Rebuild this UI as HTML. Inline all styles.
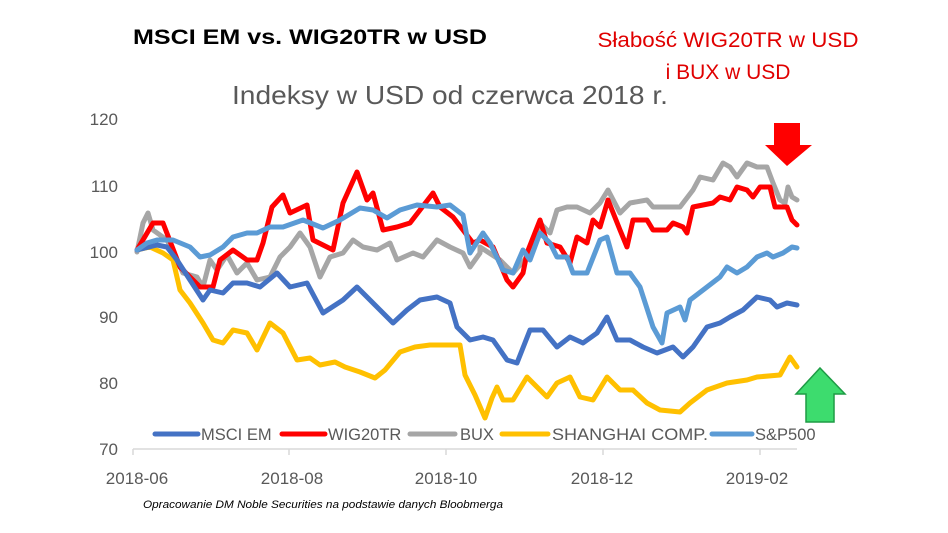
<!DOCTYPE html>
<html><head><meta charset="utf-8"><style>
body{margin:0;background:#fff;}
svg{display:block;font-family:"Liberation Sans",sans-serif;}
</style></head><body>
<svg width="948" height="533" viewBox="0 0 948 533">
<rect width="948" height="533" fill="#fff"/>
<text x="133" y="44" font-size="21" font-weight="bold" fill="#000" textLength="354" lengthAdjust="spacingAndGlyphs">MSCI EM vs. WIG20TR w USD</text>
<text x="728" y="47" font-size="21" fill="#e00000" text-anchor="middle" textLength="261" lengthAdjust="spacingAndGlyphs">Słabość WIG20TR w USD</text>
<text x="728" y="79" font-size="21" fill="#e00000" text-anchor="middle">i BUX w USD</text>
<text x="450" y="104" font-size="26" fill="#595959" text-anchor="middle" textLength="436" lengthAdjust="spacingAndGlyphs">Indeksy w USD od czerwca 2018 r.</text>
<g font-size="17" fill="#595959" text-anchor="end">
<text x="118" y="125">120</text><text x="118" y="192">110</text><text x="118" y="258">100</text>
<text x="118" y="323">90</text><text x="118" y="389">80</text><text x="118" y="455">70</text>
</g>
<line x1="133" y1="449" x2="797" y2="449" stroke="#d9d9d9" stroke-width="1.5"/>
<g stroke="#d9d9d9" stroke-width="1.5"><line x1="133" y1="449" x2="133" y2="455"/><line x1="289" y1="449" x2="289" y2="455"/><line x1="446" y1="449" x2="446" y2="455"/><line x1="603" y1="449" x2="603" y2="455"/><line x1="760" y1="449" x2="760" y2="455"/></g>
<g font-size="17" fill="#595959" text-anchor="middle">
<text x="137" y="484">2018-06</text><text x="292" y="484">2018-08</text><text x="446" y="484">2018-10</text><text x="602" y="484">2018-12</text><text x="757" y="484">2019-02</text>
</g>
<g fill="none" stroke-width="5" stroke-linejoin="round" stroke-linecap="round">
<polyline stroke="#ffc000" points="137,250 150,247 163,253 173,260 180,290 190,303 203,323 213,340 223,343 233,330 247,333 257,350 270,323 283,333 297,360 310,358 320,365 335,362 345,367 360,372 375,378 385,370 400,352 415,347 430,345 460,345 465,375 475,395 485,418 492,398 497,387 503,400 513,400 527,377 537,387 547,397 557,383 570,377 580,397 593,400 607,377 620,390 633,390 647,403 660,410 680,412 690,403 707,390 727,383 747,380 757,377 780,375 790,357 797,367"/>
<polyline stroke="#a6a6a6" points="137,252 143,223 148,213 153,230 167,240 183,273 197,277 203,287 210,260 217,270 227,255 237,273 247,263 257,280 270,277 280,257 290,247 300,233 310,247 320,277 330,257 343,253 353,240 363,247 377,250 390,243 397,260 413,253 423,257 437,240 450,247 463,253 470,267 480,253 480,247 500,260 513,273 527,257 540,223 550,233 557,210 567,207 577,207 590,213 600,203 608,190 620,213 630,203 647,200 653,207 680,207 693,190 700,177 713,180 723,163 730,167 737,177 747,163 757,167 767,167 773,183 780,200 785,203 788,187 792,197 797,200"/>
<polyline stroke="#ff0000" points="137,250 153,223 163,223 180,267 200,287 213,287 220,260 233,250 247,260 257,260 263,243 272,207 283,195 290,213 307,205 313,240 333,250 343,203 357,172 367,200 373,193 383,230 397,227 410,223 420,210 433,193 440,207 453,217 463,230 473,243 480,240 493,247 507,280 513,287 523,273 527,253 540,220 547,243 560,247 570,263 577,237 587,243 593,220 600,227 608,200 620,230 627,247 633,220 647,220 653,230 667,230 673,223 683,227 687,233 693,207 713,203 720,197 730,200 737,187 747,190 753,197 760,187 770,187 775,207 787,207 792,220 797,225"/>
<polyline stroke="#4472c4" points="137,250 157,245 167,247 177,260 190,280 203,300 210,290 223,293 233,283 247,283 260,287 277,273 290,287 307,283 323,313 343,300 357,287 373,303 393,323 407,310 420,300 437,297 450,303 457,327 470,340 483,337 493,340 507,360 517,363 530,330 543,330 557,347 570,337 583,343 597,333 607,317 617,340 630,340 643,347 657,353 673,347 683,357 693,347 707,327 720,323 730,317 743,310 757,297 770,300 777,307 787,303 797,305"/>
<polyline stroke="#5b9bd5" points="137,250 147,243 157,240 173,240 190,247 200,257 210,255 223,247 233,237 247,233 257,233 270,227 283,227 303,220 323,228 340,220 360,208 373,210 387,218 400,210 417,205 437,207 450,205 463,215 470,253 483,233 490,243 503,270 513,273 523,250 530,260 540,233 550,243 557,257 567,257 573,273 587,273 600,240 607,237 617,273 630,273 640,287 653,327 662,343 667,313 680,307 685,320 690,300 707,287 720,277 727,267 737,273 747,267 757,257 767,253 773,257 783,253 792,247 797,248"/>
</g>
<g stroke-width="5" stroke-linecap="round">
<line x1="155" y1="434" x2="198" y2="434" stroke="#4472c4"/>
<line x1="282" y1="434" x2="325" y2="434" stroke="#ff0000"/>
<line x1="410" y1="434" x2="455" y2="434" stroke="#a6a6a6"/>
<line x1="502" y1="434" x2="548" y2="434" stroke="#ffc000"/>
<line x1="712" y1="434" x2="752" y2="434" stroke="#5b9bd5"/>
</g>
<g font-size="16.5" fill="#595959">
<text x="201" y="440">MSCI EM</text><text x="328" y="440">WIG20TR</text><text x="460" y="440">BUX</text><text x="552" y="440" textLength="156" lengthAdjust="spacingAndGlyphs">SHANGHAI COMP.</text><text x="755" y="440">S&amp;P500</text>
</g>
<polygon points="774,123 800,123 800,145 812,145 787,166 765,145 774,145" fill="#ff0000"/>
<polygon points="820,368 845,394 834,394 834,422 806,422 806,394 796,394" fill="#3ddc6e" stroke="#1e9b45" stroke-width="1.5"/>
<text x="143" y="508" font-size="11" font-style="italic" fill="#000" textLength="360" lengthAdjust="spacingAndGlyphs">Opracowanie DM Noble Securities  na podstawie danych Bloobmerga</text>
</svg>
</body></html>
